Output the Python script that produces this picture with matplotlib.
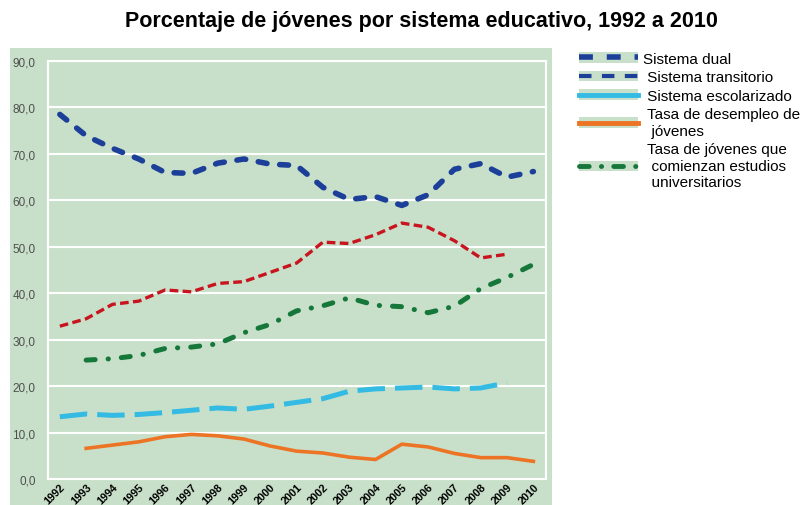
import matplotlib.pyplot as plt
from matplotlib.lines import Line2D
from matplotlib.patches import Patch, Rectangle
from matplotlib.legend_handler import HandlerTuple
from matplotlib.ticker import FuncFormatter

years = list(range(1992, 2011))

# Sistema dual (1992-2010)
dual = [78.5, 73.9, 71.2, 68.9, 66.0, 65.8, 68.0, 68.9, 67.8, 67.5,
        62.8, 60.2, 60.8, 58.9, 61.2, 66.7, 67.9, 65.0, 66.2]
# Sistema transitorio (1992-2009)
transitorio = [32.9, 34.5, 37.6, 38.3, 40.7, 40.3, 42.1, 42.5, 44.5, 46.5,
               51.0, 50.7, 52.6, 55.1, 54.2, 51.3, 47.6, 48.4]
# Sistema escolarizado (1992-2009)
escolarizado = [13.4, 14.0, 13.7, 13.9, 14.3, 14.8, 15.3, 15.0, 15.7, 16.5,
                17.3, 18.9, 19.4, 19.6, 19.8, 19.4, 19.6, 20.7]
# Tasa de desempleo de jóvenes (1993-2010)
desempleo = [6.6, 7.3, 8.0, 9.1, 9.6, 9.3, 8.6, 7.1, 6.0, 5.6,
             4.7, 4.2, 7.5, 6.9, 5.5, 4.6, 4.6, 3.8]
# Tasa de jóvenes que comienzan estudios universitarios (1993-2010)
universitarios = [25.6, 25.9, 26.6, 28.1, 28.4, 29.1, 31.5, 33.3, 36.2, 37.3,
                  39.0, 37.4, 37.1, 35.8, 37.2, 41.0, 43.4, 46.2]

bg = "#c8e0c9"
c_dual = "#1c3f99"
c_trans = "#c8141e"
c_esc = "#33bbe3"
c_des = "#ec7424"
c_uni = "#16773a"

fig = plt.figure(figsize=(8.08, 5.06), dpi=100)
fig.patches.append(Rectangle((10 / 808, 0), 542 / 808, 457 / 506,
                             transform=fig.transFigure, facecolor=bg,
                             edgecolor="none", zorder=-10))

ax = fig.add_axes([48 / 808, 1 - 480 / 506, 498 / 808, 418 / 506])
ax.set_facecolor(bg)

ax.plot(years, dual, color=c_dual, lw=4, dashes=(1.6, 2.3),
        dash_capstyle="round")
ax.plot(years[:-1], transitorio, color=c_trans, lw=2.4, dashes=(2.6, 1.3))
ax.plot(years[:-1], escolarizado, color=c_esc, lw=3.6, dashes=(5.5, 2.0))
ax.plot(years[1:], desempleo, color=c_des, lw=2.6)
ax.plot(years[1:], universitarios, color=c_uni, lw=3.6,
        dashes=(1.8, 2.6, 0.05, 2.6), dash_capstyle="round")

ax.set_xlim(1991.55, 2010.48)
ax.set_ylim(0, 90)
ax.set_yticks(range(0, 91, 10))
ax.yaxis.set_major_formatter(FuncFormatter(lambda v, p: f"{v:.1f}".replace(".", ",")))
ax.set_xticks(years)
ax.set_xticklabels([str(y) for y in years], rotation=45, ha="right",
                   rotation_mode="anchor", fontsize=7.8, fontweight="bold",
                   family="Liberation Sans")
ax.tick_params(axis="y", labelsize=8.5, colors="#505050", length=0, pad=9)
ax.tick_params(axis="x", length=0, pad=2)
for lab in ax.get_yticklabels():
    lab.set_family("Liberation Sans")
ax.grid(axis="y", color="white", lw=1.5)
for s in ax.spines.values():
    s.set_color("white")
    s.set_linewidth(1.5)

fig.text(0.521, 1 - 22 / 506, "Porcentaje de jóvenes por sistema educativo, 1992 a 2010",
         ha="center", va="center", fontsize=15.5, fontweight="bold",
         family="Liberation Sans")

# legend as printed in the original (colours as shown there)
box = Patch(facecolor=bg, edgecolor="none")
handles = [
    (box, Line2D([], [], color=c_dual, lw=4, dashes=(2.5, 2.5))),
    (box, Line2D([], [], color=c_dual, lw=3, dashes=(3, 2.5))),
    (box, Line2D([], [], color=c_esc, lw=3.5)),
    (box, Line2D([], [], color=c_des, lw=3.5)),
    (box, Line2D([], [], color=c_uni, lw=3.5, dashes=(2, 2.5, 0.05, 2.5),
                 dash_capstyle="round")),
]
labels = [
    "Sistema dual",
    " Sistema transitorio",
    " Sistema escolarizado",
    " Tasa de desempleo de\n  jóvenes",
    " Tasa de jóvenes que\n  comienzan estudios\n  universitarios",
]
leg = fig.legend(handles, labels, loc="upper left",
                 bbox_to_anchor=(568 / 808, 1 - 42 / 506),
                 handler_map={tuple: HandlerTuple(ndivide=1, pad=0)},
                 frameon=False, prop={"family": "Liberation Sans", "size": 11},
                 handlelength=3.9, handletextpad=0.3, labelspacing=0.3,
                 borderpad=0.2)
for t in leg.get_texts():
    t.set_linespacing(1.22)

fig.savefig("out.png", dpi=100)
